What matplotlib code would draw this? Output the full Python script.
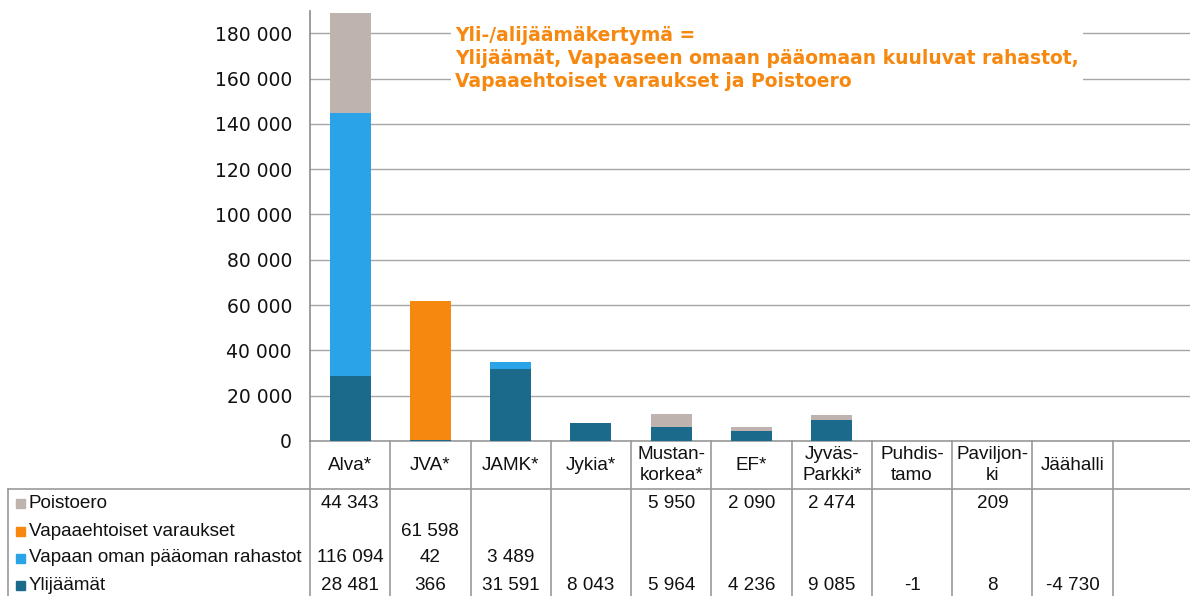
import matplotlib
matplotlib.use("Agg")
import matplotlib.pyplot as plt
import matplotlib.transforms as mtransforms
from matplotlib.lines import Line2D
from matplotlib.patches import Rectangle
from matplotlib.ticker import FuncFormatter
import numpy as np

categories = ["Alva*", "JVA*", "JAMK*", "Jykia*", "Mustan-\nkorkea*", "EF*",
              "Jyväs-\nParkki*", "Puhdis-\ntamo", "Paviljon-\nki", "Jäähalli", ""]

# series from bottom to top of the stack
series_names = ["Ylijäämät", "Vapaan oman pääoman rahastot",
                "Vapaaehtoiset varaukset", "Poistoero"]
ylijaamat = [28481, 366, 31591, 8043, 5964, 4236, 9085, -1, 8, -4730, None]
vapaan_rahastot = [116094, 42, 3489, None, None, None, None, None, None, None, None]
vapaaeht_varaukset = [None, 61598, None, None, None, None, None, None, None, None, None]
poistoero = [44343, None, None, None, 5950, 2090, 2474, None, 209, None, None]
series_values = [ylijaamat, vapaan_rahastot, vapaaeht_varaukset, poistoero]
series_colors = ["#1B6A8C", "#2BA3E9", "#F7880F", "#BEB3AF"]

title_lines = ["Yli-/alijäämäkertymä =",
               "Ylijäämät, Vapaaseen omaan pääomaan kuuluvat rahastot,",
               "Vapaaehtoiset varaukset ja Poistoero"]

W, H = 1190, 596
fig = plt.figure(figsize=(W / 100, H / 100), dpi=100)
ax = fig.add_axes([310 / W, 1 - 441 / H, 883 / W, (441 - 10.6) / H])

n = len(categories)
x = np.arange(n)
bottom = np.zeros(n)
for vals, col in zip(series_values, series_colors):
    v = np.array([0 if a is None else a for a in vals], dtype=float)
    pos = np.where(v > 0, v, 0)
    ax.bar(x, pos, 0.51, bottom=bottom, color=col, zorder=3)
    bottom += pos

ax.set_xlim(-0.5, n - 0.5)
ax.set_ylim(0, 190000)
ax.set_yticks(np.arange(0, 180001, 20000))
ax.yaxis.set_major_formatter(FuncFormatter(lambda v, p: f"{int(v):,}".replace(",", " ")))
ax.tick_params(axis="y", length=0, pad=13, labelsize=13.5, labelcolor="#111111")
ax.tick_params(axis="x", length=0, labelbottom=False)
ax.grid(axis="y", color="#A6A6A6", linewidth=1, zorder=0)
for s in ["top", "right", "bottom"]:
    ax.spines[s].set_visible(False)
ax.spines["left"].set_color("#8C8C8C")
ax.spines["left"].set_linewidth(1.2)

# title box
fig.text(455 / W, 1 - 26 / H, "\n".join(title_lines), color="#F7880F",
         fontsize=13.5, fontweight="bold", va="top", ha="left", linespacing=1.27,
         bbox=dict(facecolor="white", edgecolor="none", pad=3), zorder=5)

# data table under the plot
tr = mtransforms.blended_transform_factory(ax.transData, fig.transFigure)
lc = "#9A9A9A"
tf = dict(family="Liberation Sans", fontsize=13.6, color="#111111")
def fy(py):
    return 1 - py / H

# horizontal lines
ax.add_line(Line2D([-0.5, n - 0.5], [fy(441), fy(441)], transform=tr, color=lc, lw=1.2, clip_on=False))
fig.add_artist(Line2D([8 / W, 1.0], [fy(489), fy(489)], color=lc, lw=1.2))
fig.add_artist(Line2D([8 / W, 8 / W], [fy(489), 0], color=lc, lw=1.2))
# vertical lines
for b in np.arange(n + 1) - 0.5:
    ax.add_line(Line2D([b, b], [fy(441), 0], transform=tr, color=lc, lw=1.2, clip_on=False))

# header labels
for i, c in enumerate(categories):
    ax.text(i, fy(465), c, transform=tr, ha="center", va="center",
            linespacing=1.35, **tf)

row_y = [503, 531, 558, 585]
row_series = [3, 2, 1, 0]
for ry, si in zip(row_y, row_series):
    fig.add_artist(Rectangle((16 / W, fy(ry + 4.5)), 9 / W, 9 / H, color=series_colors[si],
                             transform=fig.transFigure))
    fig.text(29 / W, fy(ry), series_names[si], ha="left", va="center", **tf)
    for i, v in enumerate(series_values[si]):
        if v is None:
            continue
        ax.text(i, fy(ry), f"{v:,}".replace(",", " "), transform=tr, ha="center",
                va="center", **tf)

fig.savefig("out.png", dpi=100)
